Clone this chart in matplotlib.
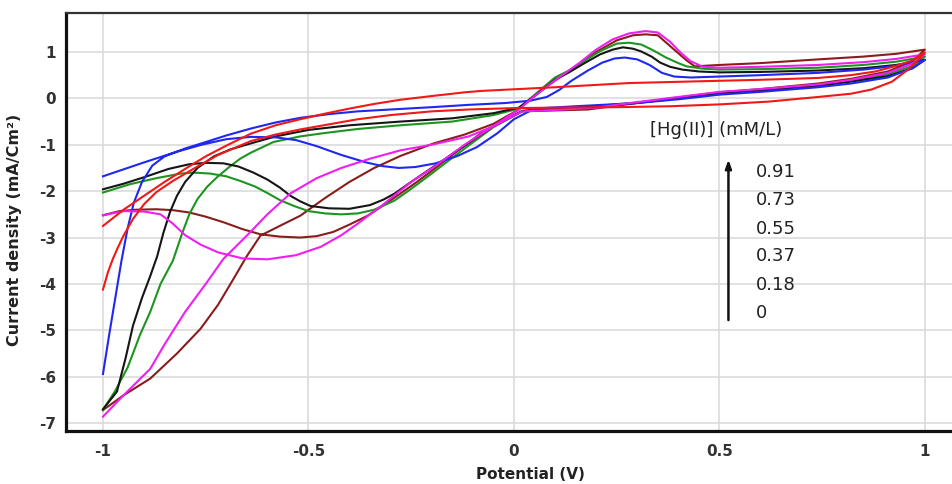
import matplotlib
matplotlib.use("Agg")
import matplotlib.pyplot as plt

# ---------------- data ----------------
x_ticks = [-1, -0.5, 0, 0.5, 1]
x_tick_labels = ["-1", "-0.5", "0", "0.5", "1"]
y_ticks = [-7, -6, -5, -4, -3, -2, -1, 0, 1]
y_tick_labels = ["-7", "-6", "-5", "-4", "-3", "-2", "-1", "0", "1"]

concentrations = ["0.91", "0.73", "0.55", "0.37", "0.18", "0"]

# red (0 mM): lower branch then upper branch back
red_x = [-1.0, -0.988, -0.976, -0.963, -0.95, -0.927, -0.9, -0.87, -0.83, -0.78, -0.72, -0.64, -0.58, -0.52,
         -0.45, -0.38, -0.3, -0.2, -0.11, 0.0, 0.1, 0.25, 0.38, 0.5, 0.62, 0.74, 0.82, 0.87, 0.92, 0.956, 0.98, 1.0,
         0.97, 0.93, 0.88, 0.82, 0.74, 0.6, 0.46, 0.28, 0.1, -0.08, -0.12, -0.2, -0.276, -0.34, -0.4, -0.46,
         -0.52, -0.58, -0.64, -0.7, -0.75, -0.8, -0.85, -0.9, -0.95, -1.0]
red_y = [-4.12, -3.75, -3.46, -3.2, -2.96, -2.6, -2.28, -2.02, -1.78, -1.52, -1.22, -0.92, -0.78, -0.67,
         -0.56, -0.45, -0.36, -0.28, -0.24, -0.21, -0.2, -0.19, -0.17, -0.13, -0.07, 0.03, 0.1, 0.19, 0.36, 0.6, 0.8, 0.99,
         0.82, 0.7, 0.58, 0.5, 0.44, 0.4, 0.37, 0.33, 0.24, 0.16, 0.13, 0.05, -0.03, -0.12, -0.22, -0.33,
         -0.45, -0.58, -0.76, -1.02, -1.25, -1.52, -1.8, -2.1, -2.4, -2.75]

# blue
blue_x = [-1.0, -0.985, -0.97, -0.955, -0.94, -0.925, -0.905, -0.88, -0.85, -0.8, -0.76, -0.7, -0.64, -0.58,
          -0.52, -0.45, -0.38, -0.3, -0.2, -0.11, -0.02, 0.04, 0.08, 0.11, 0.14, 0.18, 0.215, 0.245, 0.27, 0.3,
          0.33, 0.36, 0.39, 0.43, 0.5, 0.6, 0.74, 0.85, 0.93, 1.0,
          0.97, 0.91, 0.82, 0.74, 0.6, 0.5, 0.4, 0.3, 0.15, 0.05, 0.0, -0.04, -0.09, -0.137, -0.19, -0.24, -0.28,
          -0.32, -0.36, -0.42, -0.48, -0.53, -0.58, -0.64, -0.7, -0.76, -0.82, -0.9, -1.0]
blue_y = [-5.94, -5.1, -4.3, -3.5, -2.8, -2.25, -1.8, -1.45, -1.25, -1.08, -0.97, -0.8, -0.65, -0.52,
          -0.42, -0.34, -0.28, -0.24, -0.19, -0.14, -0.1, -0.05, 0.03, 0.18, 0.38, 0.6, 0.77, 0.86, 0.88, 0.84,
          0.72, 0.55, 0.47, 0.45, 0.47, 0.5, 0.55, 0.62, 0.7, 0.83,
          0.65, 0.45, 0.32, 0.24, 0.14, 0.08, -0.02, -0.1, -0.17, -0.22, -0.45, -0.75, -1.05, -1.24, -1.4, -1.48, -1.5,
          -1.46, -1.38, -1.22, -1.03, -0.9, -0.84, -0.83, -0.88, -1.0, -1.15, -1.38, -1.68]

# black
black_x = [-1.0, -0.966, -0.945, -0.927, -0.905, -0.885, -0.868, -0.853, -0.837, -0.82, -0.8, -0.77, -0.73,
           -0.69, -0.64, -0.58, -0.5, -0.4, -0.276, -0.15, -0.05, 0.012, 0.06, 0.1, 0.134, 0.17, 0.21, 0.24,
           0.265, 0.29, 0.31, 0.335, 0.356, 0.38, 0.41, 0.45, 0.5, 0.6, 0.74, 0.85, 0.93, 1.0,
           0.97, 0.91, 0.82, 0.74, 0.6, 0.5, 0.4, 0.3, 0.18, 0.08, 0.02, -0.05, -0.1, -0.15, -0.2, -0.25, -0.29,
           -0.317, -0.35, -0.4, -0.45, -0.495, -0.52, -0.544, -0.57, -0.6, -0.634, -0.67, -0.707, -0.75, -0.79,
           -0.84, -0.9, -0.95, -1.0]
black_y = [-6.7, -6.32, -5.6, -4.9, -4.3, -3.83, -3.4, -2.9, -2.45, -2.1, -1.8, -1.5, -1.25,
           -1.1, -0.97, -0.82, -0.68, -0.58, -0.5, -0.43, -0.32, -0.2, 0.12, 0.4, 0.56, 0.75, 0.95, 1.05,
           1.1, 1.07, 1.01, 0.9, 0.77, 0.68, 0.62, 0.58, 0.56, 0.57, 0.6, 0.65, 0.72, 0.83,
           0.65, 0.48, 0.36, 0.27, 0.17, 0.1, 0.0, -0.1, -0.18, -0.22, -0.27, -0.6, -0.9, -1.2, -1.5, -1.8, -2.05,
           -2.18, -2.3, -2.38, -2.37, -2.32, -2.22, -2.1, -1.92, -1.75, -1.6, -1.47, -1.4, -1.39, -1.42,
           -1.52, -1.7, -1.84, -1.96]

# green
green_x = [-1.0, -0.97, -0.94, -0.91, -0.885, -0.86, -0.83, -0.807, -0.79, -0.77, -0.746, -0.72, -0.69,
           -0.666, -0.64, -0.585, -0.52, -0.463, -0.38, -0.276, -0.15, -0.05, 0.012, 0.06, 0.1, 0.134, 0.17,
           0.21, 0.25, 0.28, 0.31, 0.34, 0.37, 0.4, 0.42, 0.46, 0.5, 0.6, 0.74, 0.85, 0.93, 1.0,
           0.97, 0.91, 0.82, 0.74, 0.6, 0.5, 0.4, 0.3, 0.18, 0.08, 0.02, -0.05, -0.1, -0.15, -0.2, -0.25, -0.29,
           -0.34, -0.38, -0.42, -0.46, -0.5, -0.535, -0.568, -0.6, -0.63, -0.666, -0.7, -0.74, -0.78, -0.81,
           -0.87, -0.934, -1.0]
green_y = [-6.72, -6.3, -5.8, -5.1, -4.6, -4.0, -3.5, -2.9, -2.5, -2.17, -1.9, -1.68, -1.46,
           -1.3, -1.17, -0.94, -0.82, -0.75, -0.66, -0.58, -0.5, -0.36, -0.22, 0.15, 0.45, 0.6, 0.8,
           1.02, 1.18, 1.2, 1.16, 1.03, 0.88, 0.76, 0.69, 0.64, 0.62, 0.63, 0.66, 0.72, 0.79, 0.9,
           0.7, 0.52, 0.38, 0.29, 0.18, 0.11, 0.01, -0.09, -0.18, -0.23, -0.28, -0.62, -0.95, -1.28, -1.62, -1.95, -2.2,
           -2.4, -2.48, -2.5, -2.48, -2.43, -2.32, -2.2, -2.04, -1.9, -1.78, -1.68, -1.62, -1.6, -1.62,
           -1.72, -1.85, -2.03]

# brown
brown_x = [-1.0, -0.95, -0.885, -0.82, -0.763, -0.72, -0.683, -0.65, -0.617, -0.57, -0.52, -0.46, -0.4,
           -0.34, -0.276, -0.195, -0.12, -0.05, 0.012, 0.05, 0.093, 0.16, 0.2, 0.25, 0.29, 0.32, 0.35, 0.39,
           0.42, 0.44, 0.5, 0.6, 0.74, 0.85, 0.93, 1.0,
           0.97, 0.91, 0.82, 0.74, 0.6, 0.5, 0.4, 0.3, 0.18, 0.1, 0.02, -0.08, -0.14, -0.195, -0.236, -0.276,
           -0.32, -0.356, -0.4, -0.44, -0.48, -0.52, -0.57, -0.617, -0.66, -0.707, -0.75, -0.79, -0.83, -0.87,
           -0.92, -0.96, -1.0]
brown_y = [-6.72, -6.4, -6.04, -5.5, -4.97, -4.45, -3.9, -3.4, -2.96, -2.75, -2.53, -2.15, -1.8,
           -1.5, -1.24, -0.97, -0.78, -0.55, -0.24, 0.05, 0.34, 0.75, 1.0, 1.25, 1.36, 1.38, 1.36, 1.05,
           0.82, 0.69, 0.72, 0.76, 0.84, 0.9, 0.96, 1.05,
           0.8, 0.58, 0.42, 0.32, 0.2, 0.13, 0.02, -0.1, -0.24, -0.26, -0.28, -0.75, -1.15, -1.53, -1.8, -2.05,
           -2.32, -2.53, -2.72, -2.88, -2.97, -3.0, -2.98, -2.93, -2.82, -2.67, -2.55, -2.46, -2.41, -2.39,
           -2.4, -2.43, -2.52]

# magenta
magenta_x = [-1.0, -0.95, -0.885, -0.85, -0.8, -0.75, -0.707, -0.65, -0.6, -0.544, -0.48, -0.42, -0.35,
             -0.276, -0.2, -0.11, -0.05, 0.012, 0.05, 0.093, 0.16, 0.2, 0.24, 0.28, 0.32, 0.35, 0.38, 0.405,
             0.43, 0.46, 0.5, 0.6, 0.74, 0.85, 0.93, 1.0,
             0.97, 0.91, 0.82, 0.74, 0.6, 0.5, 0.4, 0.3, 0.2, 0.1, 0.02, -0.05, -0.12, -0.19, -0.25, -0.32,
             -0.38, -0.42, -0.47, -0.53, -0.6, -0.66, -0.72, -0.763, -0.8, -0.83, -0.86, -0.9, -0.95, -1.0]
magenta_y = [-6.86, -6.4, -5.83, -5.3, -4.6, -4.0, -3.46, -2.96, -2.5, -2.05, -1.72, -1.5, -1.3,
             -1.12, -1.0, -0.82, -0.6, -0.24, 0.05, 0.34, 0.77, 1.05, 1.27, 1.4, 1.45, 1.42, 1.22, 0.99,
             0.8, 0.68, 0.66, 0.68, 0.72, 0.78, 0.85, 0.95,
             0.75, 0.55, 0.4, 0.3, 0.2, 0.14, 0.03, -0.08, -0.2, -0.25, -0.28, -0.6, -1.0, -1.45, -1.8, -2.3,
             -2.7, -2.95, -3.2, -3.38, -3.47, -3.45, -3.32, -3.15, -2.95, -2.7, -2.5, -2.44, -2.43, -2.52]

series = [
    (brown_x, brown_y, "#8b1c1c"),
    (green_x, green_y, "#1e9420"),
    (black_x, black_y, "#151515"),
    (blue_x, blue_y, "#1f28f0"),
    (magenta_x, magenta_y, "#f01ef0"),
    (red_x, red_y, "#f21818"),
]

# ---------------- figure ----------------
fig = plt.figure(figsize=(9.52, 4.84), dpi=100)
ax = fig.add_axes([66 / 952, 1 - 431 / 484, (952 - 66) / 952, (431 - 13) / 484])

for xs, ys, col in series:
    ax.plot(xs, ys, color=col, lw=1.5, solid_joinstyle="round", zorder=3)

ax.set_xlim(-1.09, 1.066)
ax.set_ylim(-7.17, 1.84)
ax.set_xticks(x_ticks)
ax.set_xticklabels(x_tick_labels)
ax.set_yticks(y_ticks)
ax.set_yticklabels(y_tick_labels)
ax.grid(True, color="#d9d9d9", lw=1.1, zorder=0)
ax.set_axisbelow(True)

for lbl in ax.get_xticklabels() + ax.get_yticklabels():
    lbl.set_fontweight("bold")
    lbl.set_fontsize(11)
    lbl.set_color("#333333")
ax.tick_params(axis="x", length=0, pad=9)
ax.tick_params(axis="y", length=0, pad=7)

ax.spines["left"].set_linewidth(2.3)
ax.spines["bottom"].set_linewidth(2.3)
ax.spines["left"].set_color("#111111")
ax.spines["bottom"].set_color("#111111")
ax.spines["top"].set_linewidth(1.6)
ax.spines["top"].set_color("#333333")
ax.spines["right"].set_visible(False)

ax.set_xlabel("Potential (V)", fontsize=11, fontweight="bold", color="#222222")
ax.set_ylabel("Current density (mA/Cm²)", fontsize=11.5, fontweight="bold", color="#222222")
ax.xaxis.set_label_coords(0.524, -0.087)
ax.yaxis.set_label_coords(-0.0497, 0.481)

# annotation
ax.text(0.332, -0.68, "[Hg(II)] (mM/L)", fontsize=13, color="#222222", va="center", ha="left")
ax.annotate("", xy=(0.522, -1.26), xytext=(0.522, -4.84),
            arrowprops=dict(arrowstyle="-|>,head_width=0.18,head_length=0.5", lw=1.8, color="#111111"))
conc_y = [-1.59, -2.19, -2.82, -3.4, -4.03, -4.63]
for lab, yy in zip(concentrations, conc_y):
    ax.text(0.588, yy, lab, fontsize=13, color="#222222", va="center", ha="left")

fig.savefig("out.png", dpi=100)
